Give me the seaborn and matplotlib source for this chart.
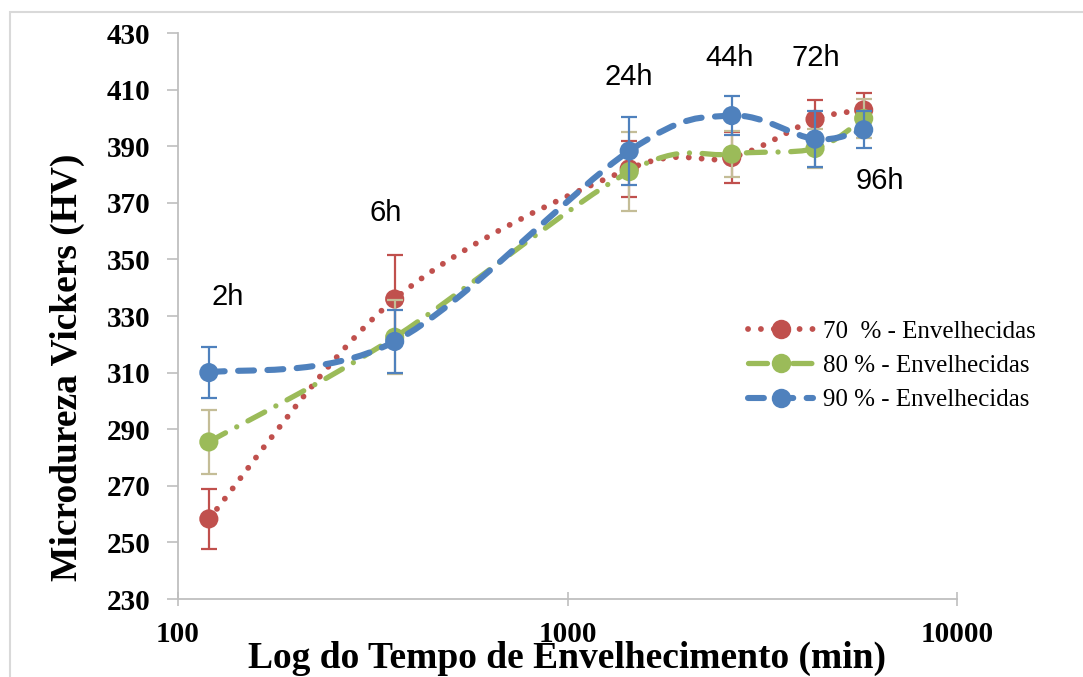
import numpy as np
import pandas as pd
import matplotlib
matplotlib.use("Agg")
import matplotlib.pyplot as plt
import seaborn as sns
from matplotlib.path import Path
from matplotlib.patches import PathPatch, Rectangle
from matplotlib.lines import Line2D

# aging time (min) and Vickers microhardness readings
tempo = [120, 360, 1440, 2640, 4320, 5760]
horas = ["2h", "6h", "24h", "44h", "72h", "96h"]

hv_70 = [258.3, 336.0, 382.0, 386.0, 399.5, 402.8]
err_70 = [10.6, 15.5, 10.0, 9.0, 7.0, 6.0]

hv_80 = [285.5, 322.5, 381.0, 387.2, 389.2, 399.8]
err_80 = [11.3, 13.0, 14.0, 8.0, 7.0, 7.0]

hv_90 = [310.0, 321.0, 388.3, 400.8, 392.5, 395.8]
err_90 = [9.0, 11.0, 12.0, 7.0, 10.0, 6.5]

series = ["70  % - Envelhecidas", "80 % - Envelhecidas", "90 % - Envelhecidas"]
cores = ["#C0504D", "#9BBB59", "#4F81BD"]
cores_err = ["#C0504D", "#C4BD97", "#4F81BD"]

# label positions for the time annotations (data coords)
lab_x = [134, 342, 1440, 2600, 4345, 6340]
lab_y = [336.7, 366.4, 414.5, 421.2, 421.2, 377.7]

df = pd.concat([
    pd.DataFrame({"tempo": tempo, "hv": hv_70, "err": err_70, "serie": series[0]}),
    pd.DataFrame({"tempo": tempo, "hv": hv_80, "err": err_80, "serie": series[1]}),
    pd.DataFrame({"tempo": tempo, "hv": hv_90, "err": err_90, "serie": series[2]}),
])

sns.set_style("white")
plt.rcParams["font.family"] = ["Liberation Serif", "DejaVu Serif"]
plt.rcParams["text.color"] = "black"
plt.rcParams["axes.labelcolor"] = "black"
plt.rcParams["xtick.labelcolor"] = "black"
plt.rcParams["ytick.labelcolor"] = "black"


def smooth_path(x, y):
    # Excel-like smoothed line: Catmull-Rom segments as cubic Bezier, built in log-x space
    lx = np.log10(np.asarray(x, float))
    yy = np.asarray(y, float)
    n = len(lx)
    verts = [(x[0], yy[0])]
    codes = [Path.MOVETO]
    for i in range(n - 1):
        i0 = max(i - 1, 0)
        i3 = min(i + 2, n - 1)
        c1 = (lx[i] + (lx[i + 1] - lx[i0]) / 6, yy[i] + (yy[i + 1] - yy[i0]) / 6)
        c2 = (lx[i + 1] - (lx[i3] - lx[i]) / 6, yy[i + 1] - (yy[i3] - yy[i]) / 6)
        verts += [(10 ** c1[0], c1[1]), (10 ** c2[0], c2[1]), (x[i + 1], yy[i + 1])]
        codes += [Path.CURVE4] * 3
    return Path(verts, codes)


estilos = [
    dict(lw=4.2, ls=(0, (0.01, 2.2))),
    dict(lw=3.8, ls=(0, (3.6, 2.4, 0.01, 2.4))),
    dict(lw=4.4, ls=(0, (2.6, 2.2))),
]

fig = plt.figure(figsize=(10.83, 6.77), dpi=100)
ax = fig.add_axes([178 / 1083, 1 - 599 / 677, (957 - 178) / 1083, (599 - 33) / 677])
ax.set_xscale("log")
ax.set_xlim(100, 10000)
ax.set_ylim(230, 430)

for k, s in enumerate(series):
    d = df[df["serie"] == s]
    z = 3 + k * 3
    ax.errorbar(d["tempo"], d["hv"], yerr=d["err"], fmt="none", ecolor=cores_err[k],
                elinewidth=1.6, capsize=6, capthick=1.6, zorder=z)
    patch = PathPatch(smooth_path(list(d["tempo"]), list(d["hv"])), facecolor="none",
                      edgecolor=cores[k], lw=estilos[k]["lw"], linestyle=estilos[k]["ls"],
                      capstyle="round", joinstyle="round", zorder=z + 1)
    ax.add_patch(patch)
    sns.scatterplot(data=d, x="tempo", y="hv", color=cores[k], s=190, edgecolor="none",
                    ax=ax, legend=False, zorder=z + 2)

for t, xx, yy in zip(horas, lab_x, lab_y):
    ax.text(xx, yy, t, ha="center", va="center", fontsize=21, color="black",
            family=["Liberation Sans", "DejaVu Sans"], zorder=20)

ax.set_xticks([100, 1000, 10000])
ax.set_xticklabels(["100", "1000", "10000"])
ax.xaxis.set_minor_locator(matplotlib.ticker.NullLocator())
ax.set_yticks(np.arange(230, 431, 20))
for lab in ax.get_xticklabels() + ax.get_yticklabels():
    lab.set_fontweight("bold")
ax.tick_params(axis="y", direction="out", length=8, width=1.2, color="#bfbfbf",
               pad=12, labelsize=21, left=True)
ax.tick_params(axis="x", direction="inout", length=10, width=1.2, color="#bfbfbf",
               pad=11, labelsize=21, bottom=True)

for sp in ["top", "right"]:
    ax.spines[sp].set_visible(False)
for sp in ["left", "bottom"]:
    ax.spines[sp].set_color("#bfbfbf")
    ax.spines[sp].set_linewidth(1.3)

ax.set_xlabel("Log do Tempo de Envelhecimento (min)", fontsize=27, fontweight="bold", labelpad=-5)
ax.set_ylabel("Microdureza Vickers (HV)", fontsize=27, fontweight="bold")
ax.yaxis.set_label_coords(-0.119, 0.41)

handles = [
    Line2D([], [], color=cores[k], lw=estilos[k]["lw"], linestyle=estilos[k]["ls"],
           dash_capstyle="round", solid_capstyle="round", marker="o", markersize=14,
           markeredgewidth=0)
    for k in range(3)
]
fig.legend(handles, series, loc="upper left", bbox_to_anchor=(748 / 1083, 1 - 320 / 677),
           frameon=False, fontsize=18, handlelength=2.6, handletextpad=0.4,
           labelspacing=0.48, borderpad=0, borderaxespad=0)

# light outer frame of the original chart area
fig.add_artist(Rectangle((9.5 / 1083, -0.2), 1.2, 1.2 - 12 / 677, transform=fig.transFigure,
                         fill=False, edgecolor="#d9d9d9", lw=1.5, zorder=0))

fig.savefig("out.png", dpi=100)
